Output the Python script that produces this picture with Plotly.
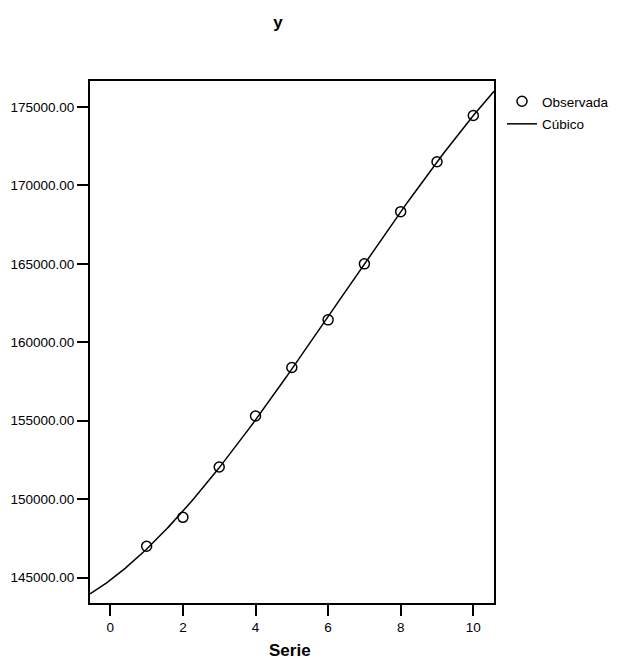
import numpy as np
import plotly.graph_objects as go

serie = [1, 2, 3, 4, 5, 6, 7, 8, 9, 10]
observada = [147000, 148840, 152050, 155300, 158390, 161430, 165000, 168330, 171510, 174460]

x_range = [-0.56, 10.57]
y_range = [143380, 176658]
x_ticks = [0, 2, 4, 6, 8, 10]
y_ticks = [145000, 150000, 155000, 160000, 165000, 170000, 175000]

# Cubic fit of the observed data (as in the original "Cúbico" model)
coef = np.polyfit(serie, observada, 3)
xc = np.linspace(x_range[0], x_range[1], 300)
yc = np.polyval(coef, xc)

FONT = "Liberation Sans, Arial, sans-serif"
FS = 13.5

# the page body adds an 8px offset; figure is sized to fit the window
W, H = 609, 654
fig = go.Figure()
fig.add_trace(go.Scatter(
    x=serie, y=observada, mode="markers", name="Observada", legendgroup="a",
    marker=dict(symbol="circle-open", size=10, color="black", line=dict(width=1.5, color="black")),
))
fig.add_trace(go.Scatter(
    x=xc, y=yc, mode="lines", name="Cúbico", legendgroup="b",
    line=dict(color="black", width=1.5),
))

fig.update_layout(
    width=W, height=H,
    margin=dict(l=82, r=123, t=73, b=59),
    paper_bgcolor="white", plot_bgcolor="white",
    font=dict(family=FONT, size=FS, color="black"),
    title=dict(text="<b>y</b>", xref="container", x=270/W, xanchor="center",
               yref="container", y=1 - 14/H, yanchor="middle",
               font=dict(size=17, family=FONT, color="black")),
    showlegend=True,
    legend=dict(xref="container", yref="container",
                x=494/W, xanchor="left", y=1 - 78/H, yanchor="top",
                font=dict(size=FS, family=FONT), bgcolor="rgba(0,0,0,0)",
                tracegroupgap=2),
    annotations=[dict(text="<b>Serie</b>", xref="paper", yref="paper",
                      x=0.495, y=-47.5 / 522, xanchor="center", yanchor="middle",
                      showarrow=False, font=dict(size=17, family=FONT, color="black"))],
)
fig.update_xaxes(range=x_range, tickvals=x_ticks, ticktext=[str(v) for v in x_ticks],
                 showgrid=False, zeroline=False, showline=True, linecolor="black", linewidth=2,
                 mirror=True, ticks="outside", ticklen=11, tickwidth=2, tickcolor="black",
                 automargin=False,
                 tickfont=dict(size=FS, family=FONT, color="black"))
fig.update_yaxes(range=y_range, tickvals=y_ticks, tickformat=".2f",
                 showgrid=False, zeroline=False, showline=True, linecolor="black", linewidth=2,
                 mirror=True, ticks="outside", ticklen=11, tickwidth=2, tickcolor="black",
                 automargin=False,
                 tickfont=dict(size=FS, family=FONT, color="black"))

fig.write_html("out.html")
